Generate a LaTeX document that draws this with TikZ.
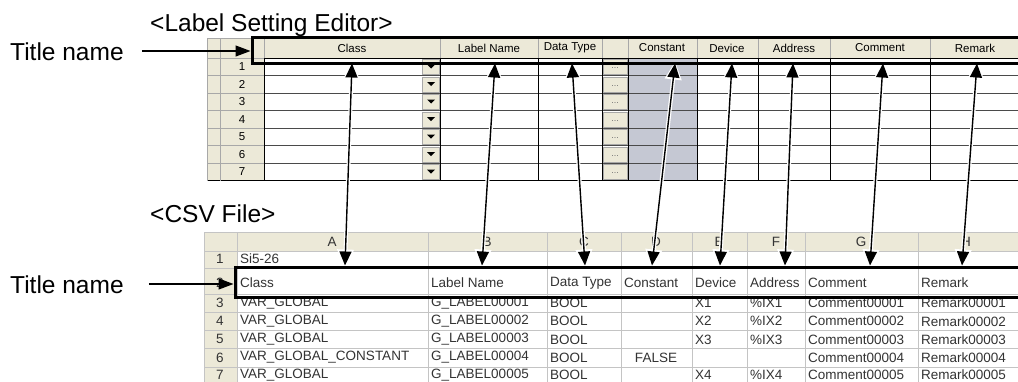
\documentclass[tikz,border=0pt]{standalone}
\usepackage{fontspec}
\setmainfont{Liberation Sans}
\usepackage{xcolor}
\definecolor{cFace}{HTML}{ECE9D8}
\definecolor{cConst}{HTML}{C5C8D3}
\definecolor{cGrid}{HTML}{A8A8A8}
\definecolor{cRow}{HTML}{4A4A4A}
\definecolor{cCell}{HTML}{C4C4C4}
\definecolor{cText}{HTML}{333333}
\definecolor{cDots}{HTML}{707070}
\usetikzlibrary{arrows.meta}

\begin{document}
\begin{tikzpicture}[x=1pt,y=-1pt,
  every node/.style={inner sep=0pt},
  caption/.style={font=\fontsize{24.5}{26}\selectfont,anchor=base west},
  hdr/.style={font=\fontsize{11.5}{12}\selectfont},
  cell/.style={font=\fontsize{13.5}{14}\selectfont,text=cText,anchor=west},
  frame/.style={line width=3pt},
  tarrow/.style={-{Triangle[length=15pt,width=11pt]},line width=1.2pt},
  halo/.style={{Triangle[length=18pt,width=16pt]}-{Triangle[length=18pt,width=16pt]},
    white,line width=4pt,shorten <=-2pt,shorten >=-2pt},
  link/.style={{Triangle[length=14pt,width=12pt]}-{Triangle[length=14pt,width=12pt]},
    line width=1.4pt}]
\useasboundingbox (0,0) rectangle (1018,381);
\clip (0,0) rectangle (1018,381);
\fill[white] (0,0) rectangle (1018,381);

% --- Label Setting Editor ---
\fill[cFace] (207,38) rectangle (264,180.5);
\fill[cFace] (264,38) rectangle (1020,58);
\fill[cConst] (628,58) rectangle (697,180.5);
\foreach \i in {0,...,6} {
  \pgfmathsetmacro\y{58+17.5*\i}
  \pgfmathtruncatemacro\n{\i+1}
  \filldraw[fill=cFace,draw=cGrid] (603,\y+1.5) rectangle (627,\y+16.5);
  \node[font=\fontsize{9}{9}\selectfont,text=cDots] (dots\n) at (615,\y+10.5) {...};
  \filldraw[fill=cFace,draw=cGrid] (422,\y+1.5) rectangle (439,\y+16.5);
  \fill (427,\y+6.5) -- (435,\y+6.5) -- (431,\y+10.5) -- cycle;
  \node[hdr] (num\n) at (242,\y+9) {\n};
  \draw[cGrid] (207,\y+17.5) -- (264,\y+17.5);
}
\foreach \y in {75.5,93,110.5,128,145.5,163} \draw[cRow,line width=1pt] (264,\y) -- (1020,\y);
\draw[cGrid] (207,38) -- (1020,38);
\draw[cGrid] (207,58) -- (264,58);
\draw[line width=1pt] (264,58) -- (1020,58);
\draw[line width=1pt] (207,180.5) -- (1020,180.5);
\foreach \x in {207,220,264} \draw[cGrid] (\x,38) -- (\x,180.5);
\foreach \x in {264,440,538,602,628,697,758,830,930} {
  \draw[cGrid] (\x,38) -- (\x,58);
  \draw[line width=1pt] (\x,58) -- (\x,180.5);
}
\node[hdr] (hClass) at (352,48) {Class};
\node[hdr] (hName)  at (489,48) {Label Name};
\node[hdr] (hType)  at (570,48) {Data Type};
\node[hdr] (hConst) at (662,48) {Constant};
\node[hdr] (hDev)   at (727,48) {Device};
\node[hdr] (hAddr)  at (794,48) {Address};
\node[hdr] (hComm)  at (880,48) {Comment};
\node[hdr] (hRem)   at (975,48) {Remark};

% --- CSV File ---
\fill[cFace] (204,232) rectangle (1020,251);
\fill[cFace] (204,251) rectangle (237,390);
\foreach \y in {232,251,268,294,312.2,330.4,348.6,366.8} \draw[cCell] (204,\y) -- (1020,\y);
\foreach \x in {204,237,428,547,621,692,747,805,918} \draw[cCell] (\x,232) -- (\x,390);
\foreach \l/\x in {A/332,B/487,C/584,D/656,E/719,F/776,G/861,H/966}
  \node[cell,anchor=center] (col\l) at (\x,242) {\l};
\foreach \n/\y in {1/259,2/283,3/303,4/321.2,5/339.4,6/357.6,7/374.8}
  \node[cell,anchor=center] (row\n) at (220,\y) {\n};
\node[cell] (si) at (240,259) {Si5-26};
\foreach \l/\x/\t in {A/240/Class,B/431/Label Name,C/550/Data Type,D/624/Constant,
    E/695/Device,F/750/Address,G/808/Comment,H/921/Remark}
  \node[cell] (t\l) at (\x,283) {\t};
\foreach \n/\y/\a/\b/\e/\f/\g/\h in {
    3/303/VAR\_GLOBAL/G\_LABEL00001/X1/\%IX1/Comment00001/Remark00001,
    4/321.2/VAR\_GLOBAL/G\_LABEL00002/X2/\%IX2/Comment00002/Remark00002,
    5/339.4/VAR\_GLOBAL/G\_LABEL00003/X3/\%IX3/Comment00003/Remark00003,
    6/357.6/VAR\_GLOBAL\_CONSTANT/G\_LABEL00004/{}/{}/Comment00004/Remark00004,
    7/374.8/VAR\_GLOBAL/G\_LABEL00005/X4/\%IX4/Comment00005/Remark00005} {
  \node[cell] (a\n) at (240,\y) {\a};
  \node[cell] (b\n) at (431,\y) {\b};
  \node[cell] (c\n) at (550,\y) {BOOL};
  \node[cell] (e\n) at (695,\y) {\e};
  \node[cell] (f\n) at (750,\y) {\f};
  \node[cell] (g\n) at (808,\y) {\g};
  \node[cell] (h\n) at (921,\y) {\h};
}
\node[cell,anchor=center] (d6) at (656,357.6) {FALSE};

% --- links between the two title rows ---
\foreach \nm/\xt/\xb in {Class/352/345,Name/495/482,Type/572/585,Const/675/652,
    Dev/732/720,Addr/793/785,Comm/883/870,Rem/977/962} {
  \coordinate (e\nm) at (\xt,63.5);
  \coordinate (c\nm) at (\xb,265.5);
  \draw[halo] (e\nm) -- (c\nm);
  \draw[link] (e\nm) -- (c\nm);
}

% --- title frames ---
\draw[frame] (252,37) rectangle (1030,63);
\draw[frame] (235,267) rectangle (1030,297);

% --- captions ---
\node[caption] (capEd)  at (150,31) {<Label Setting Editor>};
\node[caption] (capCsv) at (150,222) {<CSV File>};
\node[caption] (tn1) at (10,60) {Title name};
\node[caption] (tn2) at (10,293) {Title name};
\coordinate (eTitle) at (250.5,51);
\coordinate (cTitle) at (233.5,284);
\draw[tarrow] ([xshift=18pt]tn1.east |- eTitle) -- (eTitle);
\draw[tarrow] ([xshift=25pt]tn2.east |- cTitle) -- (cTitle);
\end{tikzpicture}
\end{document}
